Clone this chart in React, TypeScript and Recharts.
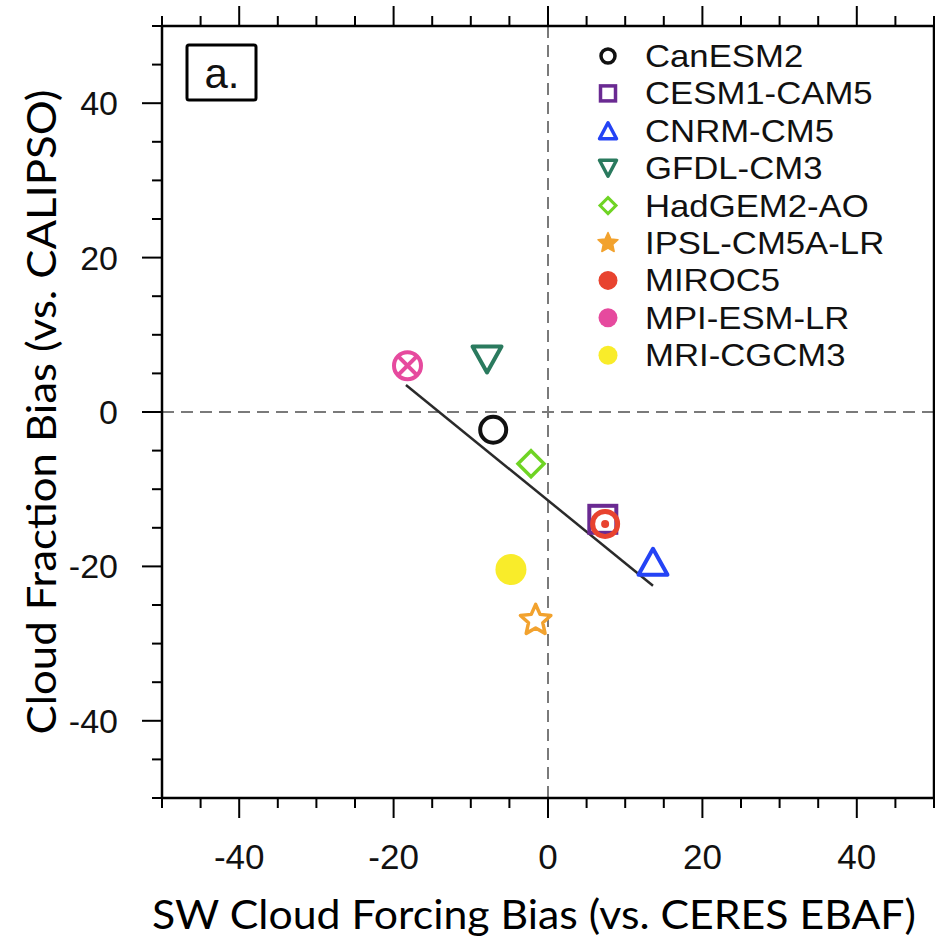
import React from "react";
import { ScatterChart, Scatter, XAxis, YAxis, ReferenceLine, Customized } from "recharts";

// models in legend order
const models = ["CanESM2", "CESM1-CAM5", "CNRM-CM5", "GFDL-CM3", "HadGEM2-AO", "IPSL-CM5A-LR", "MIROC5", "MPI-ESM-LR", "MRI-CGCM3"];
const swBias = [-7.1, 7.1, 13.6, -7.9, -2.2, -1.6, 7.4, -18.2, -4.8];
const cfBias = [-2.3, -13.9, -19.4, 6.8, -6.7, -27.0, -14.5, 6.0, -20.4];
const colors = ["#111111", "#6a2a92", "#2443f5", "#2a7a5e", "#6fd424", "#f2a22e", "#e8432f", "#e64a9e", "#f9ec2a"];
const plotMarkers = ["circle", "square", "triangle", "triangleDown", "diamond", "star", "ringDot", "circleX", "disk"];
const legendMarkers = ["circle", "square", "triangle", "triangleDown", "diamond", "starFilled", "dot", "dot", "dot"];

// regression line end points
const fitX = [-18.4, 13.6];
const fitY = [3.5, -22.5];

const axisTicks = [-50, -45, -40, -35, -30, -25, -20, -15, -10, -5, 0, 5, 10, 15, 20, 25, 30, 35, 40, 45, 50];
const labelTicks = [-40, -20, 0, 20, 40];

const tickFont = "'Liberation Sans', Arial, Helvetica, sans-serif";
const titleFont = "Lato, 'Open Sans', sans-serif";

function starPath(cx: number, cy: number, R: number, r: number) {
  const pts: string[] = [];
  for (let i = 0; i < 10; i++) {
    const a = ((-90 + i * 36) * Math.PI) / 180;
    const rad = i % 2 === 0 ? R : r;
    pts.push(`${cx + rad * Math.cos(a)},${cy + rad * Math.sin(a)}`);
  }
  return `M${pts.join("L")}Z`;
}

function Marker({ kind, color, cx, cy }: { kind: string; color: string; cx: number; cy: number }) {
  switch (kind) {
    case "circle":
      return <circle cx={cx} cy={cy} r={13} fill="none" stroke={color} strokeWidth={4} />;
    case "square":
      return <rect x={cx - 13.5} y={cy - 13.5} width={27} height={27} fill="none" stroke={color} strokeWidth={4} />;
    case "triangle":
      return <polygon points={`${cx},${cy - 13} ${cx + 14.5},${cy + 13} ${cx - 14.5},${cy + 13}`} fill="none" stroke={color} strokeWidth={4} strokeLinejoin="round" />;
    case "triangleDown":
      return <polygon points={`${cx},${cy + 13} ${cx + 14.5},${cy - 13} ${cx - 14.5},${cy - 13}`} fill="none" stroke={color} strokeWidth={4} strokeLinejoin="round" />;
    case "diamond":
      return <polygon points={`${cx},${cy - 13} ${cx + 13},${cy} ${cx},${cy + 13} ${cx - 13},${cy}`} fill="none" stroke={color} strokeWidth={3.5} />;
    case "star":
      return <path d={starPath(cx, cy, 16, 7.5)} fill="none" stroke={color} strokeWidth={3.5} strokeLinejoin="round" />;
    case "ringDot":
      return (
        <g>
          <circle cx={cx} cy={cy} r={12.5} fill="none" stroke={color} strokeWidth={5} />
          <circle cx={cx} cy={cy} r={4} fill={color} />
        </g>
      );
    case "circleX":
      return (
        <g>
          <circle cx={cx} cy={cy} r={13.5} fill="none" stroke={color} strokeWidth={4} />
          <line x1={cx - 9.5} y1={cy - 9.5} x2={cx + 9.5} y2={cy + 9.5} stroke={color} strokeWidth={4} />
          <line x1={cx - 9.5} y1={cy + 9.5} x2={cx + 9.5} y2={cy - 9.5} stroke={color} strokeWidth={4} />
        </g>
      );
    case "disk":
      return <circle cx={cx} cy={cy} r={15.5} fill={color} />;
    default:
      return null;
  }
}

function LegendMarker({ kind, color, cx, cy }: { kind: string; color: string; cx: number; cy: number }) {
  switch (kind) {
    case "circle":
      return <circle cx={cx} cy={cy} r={7} fill="none" stroke={color} strokeWidth={3.5} />;
    case "square":
      return <rect x={cx - 7.5} y={cy - 7.5} width={15} height={15} fill="none" stroke={color} strokeWidth={3.5} />;
    case "triangle":
      return <polygon points={`${cx},${cy - 8} ${cx + 8.5},${cy + 8} ${cx - 8.5},${cy + 8}`} fill="none" stroke={color} strokeWidth={3.5} strokeLinejoin="round" />;
    case "triangleDown":
      return <polygon points={`${cx},${cy + 8} ${cx + 8.5},${cy - 8} ${cx - 8.5},${cy - 8}`} fill="none" stroke={color} strokeWidth={3.5} strokeLinejoin="round" />;
    case "diamond":
      return <polygon points={`${cx},${cy - 8} ${cx + 8},${cy} ${cx},${cy + 8} ${cx - 8},${cy}`} fill="none" stroke={color} strokeWidth={3} />;
    case "starFilled":
      return <path d={starPath(cx, cy, 10.5, 5)} fill={color} stroke={color} strokeWidth={1.5} strokeLinejoin="round" />;
    case "dot":
      return <circle cx={cx} cy={cy} r={9.5} fill={color} />;
    default:
      return null;
  }
}

function BottomTick(props: any) {
  const { x, y, payload } = props;
  const v = payload.value;
  const major = labelTicks.includes(v);
  return (
    <g>
      <line x1={x} y1={y} x2={x} y2={y + (major ? 20 : 10)} stroke="#000" strokeWidth={2} />
      {major && (
        <text x={x} y={y + 71} textAnchor="middle" fontFamily={tickFont} fontSize={35} fill="#111">
          {v}
        </text>
      )}
    </g>
  );
}

function TopTick(props: any) {
  const { x, y, payload } = props;
  const major = labelTicks.includes(payload.value);
  return <line x1={x} y1={y} x2={x} y2={y - (major ? 20 : 10)} stroke="#000" strokeWidth={2} />;
}

function LeftTick(props: any) {
  const { x, y, payload } = props;
  const v = payload.value;
  const major = labelTicks.includes(v);
  return (
    <g>
      <line x1={x} y1={y} x2={x - (major ? 20 : 10)} y2={y} stroke="#000" strokeWidth={2} />
      {major && (
        <text x={x - 44} y={y + 12} textAnchor="end" fontFamily={tickFont} fontSize={34} fill="#111">
          {v}
        </text>
      )}
    </g>
  );
}

function Decorations() {
  const rowY0 = 56;
  const rowStep = 37.4;
  return (
    <g>
      <rect x={187} y={45} width={69} height={55} rx={2} fill="#fff" stroke="#000" strokeWidth={3} />
      <text x={222} y={88} textAnchor="middle" fontFamily={tickFont} fontSize={42} fill="#111">
        a.
      </text>
      {models.map((m, i) => {
        const cy = rowY0 + i * rowStep;
        return (
          <g key={m}>
            <LegendMarker kind={legendMarkers[i]} color={colors[i]} cx={608} cy={cy} />
            <g transform={`translate(645, ${cy + 11}) scale(1.12, 1)`}>
              <text x={0} y={0} fontFamily={tickFont} fontSize={31} fill="#111">
                {m}
              </text>
            </g>
          </g>
        );
      })}
      <text x={534} y={929} textAnchor="middle" fontFamily={titleFont} fontSize={40} fill="#000" textLength={764} lengthAdjust="spacingAndGlyphs">
        SW Cloud Forcing Bias (vs. CERES EBAF)
      </text>
      <text
        x={0}
        y={0}
        transform="translate(56, 412) rotate(-90)"
        textAnchor="middle"
        fontFamily={titleFont}
        fontSize={40}
        fill="#000"
        textLength={645}
        lengthAdjust="spacingAndGlyphs"
      >
        Cloud Fraction Bias (vs. CALIPSO)
      </text>
    </g>
  );
}

export default function App() {
  return (
    <div style={{ position: "absolute", left: 0, top: 0, width: 935, height: 945, background: "#fff" }}>
      <ScatterChart width={935} height={945} margin={{ top: 0, right: 0, bottom: 0, left: 0 }}>
        <XAxis
          type="number"
          dataKey="x"
          domain={[-50, 50]}
          ticks={axisTicks}
          interval={0}
          allowDataOverflow
          height={147}
          tickSize={0}
          tickMargin={0}
          tickLine={false}
          axisLine={{ stroke: "#000", strokeWidth: 2.5 }}
          tick={<BottomTick />}
        />
        <XAxis
          xAxisId="top"
          orientation="top"
          type="number"
          dataKey="x"
          domain={[-50, 50]}
          ticks={axisTicks}
          interval={0}
          allowDataOverflow
          height={26}
          tickSize={0}
          tickMargin={0}
          tickLine={false}
          axisLine={{ stroke: "#000", strokeWidth: 2.5 }}
          tick={<TopTick />}
        />
        <YAxis
          type="number"
          dataKey="y"
          domain={[-50, 50]}
          ticks={axisTicks}
          interval={0}
          allowDataOverflow
          width={162}
          tickSize={0}
          tickMargin={0}
          tickLine={false}
          axisLine={{ stroke: "#000", strokeWidth: 2.5 }}
          tick={<LeftTick />}
        />
        <YAxis
          yAxisId="right"
          orientation="right"
          type="number"
          dataKey="y"
          domain={[-50, 50]}
          allowDataOverflow
          width={1}
          tick={false}
          tickLine={false}
          axisLine={{ stroke: "#000", strokeWidth: 2.5 }}
        />
        <ReferenceLine x={0} stroke="#7a7a7a" strokeWidth={2} strokeDasharray="12 7" />
        <ReferenceLine y={0} stroke="#7a7a7a" strokeWidth={2} strokeDasharray="12 7" />
        <ReferenceLine
          segment={[
            { x: fitX[0], y: fitY[0] },
            { x: fitX[1], y: fitY[1] },
          ]}
          stroke="#2a2a2a"
          strokeWidth={2.5}
        />
        {models.map((m, i) => (
          <Scatter
            key={m}
            name={m}
            data={[{ x: swBias[i], y: cfBias[i] }]}
            isAnimationActive={false}
            shape={(p: any) => <Marker kind={plotMarkers[i]} color={colors[i]} cx={p.cx} cy={p.cy} />}
          />
        ))}
        <Customized component={<Decorations />} />
      </ScatterChart>
    </div>
  );
}
